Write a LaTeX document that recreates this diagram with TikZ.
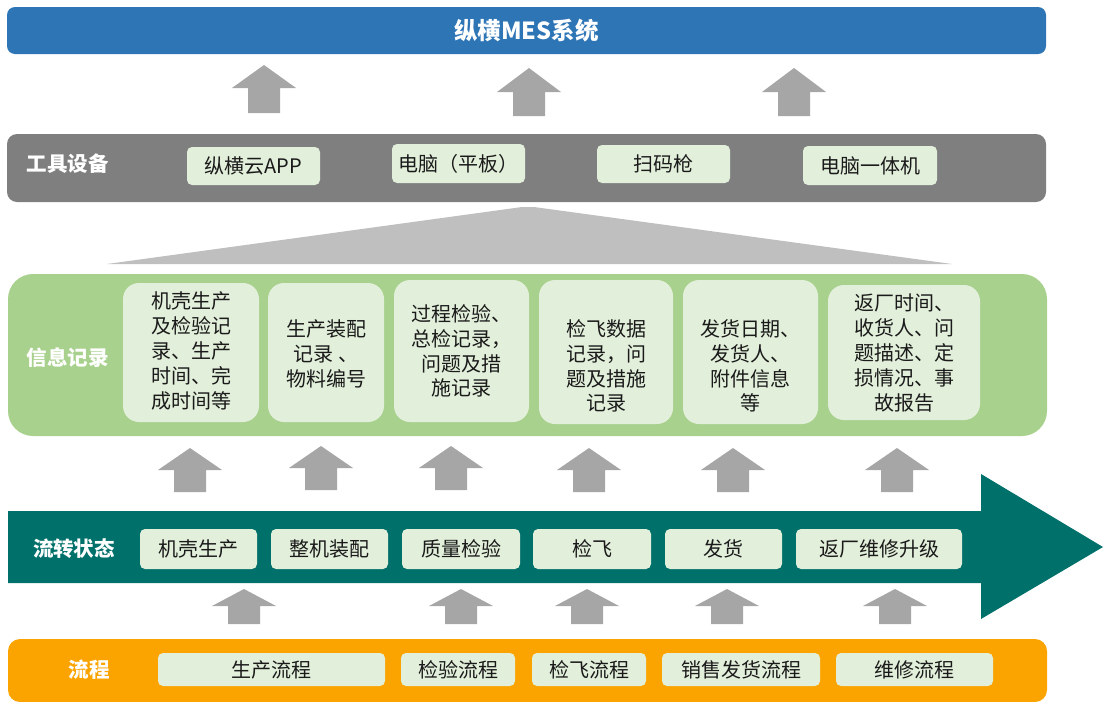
\documentclass[tikz,border=0pt]{standalone}
\usepackage{fontspec}
\setmainfont{Noto Sans CJK SC}
\definecolor{mesblue}{HTML}{2E75B6}
\definecolor{toolgray}{HTML}{7F7F7F}
\definecolor{boxg}{HTML}{E2EFDA}
\definecolor{trig}{HTML}{BFBFBF}
\definecolor{infog}{HTML}{A9D18E}
\definecolor{arrg}{HTML}{A6A6A6}
\definecolor{teal}{HTML}{00706A}
\definecolor{orng}{HTML}{FBA400}
\definecolor{txt}{HTML}{1A1A1A}
\newcommand\blkup[4]{%
  \fill[arrg] (#1-32,#3) -- (#1,#2) -- (#1+32,#3) -- (#1+16,#3) -- (#1+16,#4) -- (#1-16,#4) -- (#1-16,#3) -- cycle;}
\begin{document}
\begin{tikzpicture}[x=1pt,y=-1pt,
  every node/.style={font=\fontsize{20}{24.8}\selectfont, text=txt, inner sep=0pt},
  lbl/.style={font=\fontsize{20.5}{24}\selectfont\bfseries, text=white},
  bar/.style={rounded corners=#1},
  sbox/.style={fill=boxg, rounded corners=5pt},
  ibox/.style={fill=boxg, rounded corners=16pt},
  itxt/.style={align=center}]
\useasboundingbox (0,0) rectangle (1104,702);
% top MES bar
\node[bar=8pt, fill=mesblue, minimum width=1039pt, minimum height=47pt,
  font=\fontsize{23.5}{26}\selectfont\bfseries, text=white] (mes) at (526.5,30.5) {纵横MES系统};
\blkup{264}{65}{88}{113}
\blkup{529}{68}{92}{116}
\blkup{794}{68}{92}{116}
% tools bar
\node[bar=10pt, fill=toolgray, minimum width=1039pt, minimum height=68pt] (tools) at (526.5,168) {};
\node[lbl] (toolslbl) at (68,164) {工具设备};
\node[sbox, minimum width=133pt, minimum height=38pt] (t1) at (253.5,166) {纵横云APP};
\node[sbox, minimum width=133pt, minimum height=39pt] (t2) at (458.5,163.5) {电脑（平板）};
\node[sbox, minimum width=133pt, minimum height=38pt] (t3) at (663.5,164) {扫码枪};
\node[sbox, minimum width=134pt, minimum height=39pt] (t4) at (870,165.5) {电脑一体机};
% trapezoid
\fill[trig] (107,264) -- (522,207) -- (534,207) -- (952,264) -- cycle;
% info panel
\node[bar=25pt, fill=infog, minimum width=1039pt, minimum height=162pt] (info) at (527.5,355) {};
\node[lbl] (infolbl) at (68,358) {信息记录};
\node[ibox, minimum width=136pt, minimum height=139pt] (i1) at (191,352.5) {};
\node[itxt] at (191,351) {机壳生产\\及检验记\\录、生产\\时间、完\\成时间等};
\node[ibox, minimum width=116pt, minimum height=139pt] (i2) at (326,352.5) {};
\node[itxt] at (326,354) {生产装配\\记录\ 、\\物料编号};
\node[ibox, minimum width=135pt, minimum height=142pt] (i3) at (461.5,351) {};
\node[itxt] at (461.5,351) {过程检验、\\总检记录，\\问题及措\\施记录};
\node[ibox, minimum width=134pt, minimum height=144pt] (i4) at (606,352) {};
\node[itxt] at (606,366) {检飞数据\\记录，问\\题及措施\\记录};
\node[ibox, minimum width=135pt, minimum height=144pt] (i5) at (750.5,352) {};
\node[itxt] at (750.5,366) {发货日期、\\发货人、\\附件信息\\等};
\node[ibox, minimum width=152pt, minimum height=135pt] (i6) at (904,352.5) {};
\node[itxt] at (904,353) {返厂时间、\\收货人、问\\题描述、定\\损情况、事\\故报告};
% middle arrows
\blkup{190}{448}{470}{492}
\blkup{321}{446}{468}{490}
\blkup{451}{446}{468}{490}
\blkup{589}{448}{470}{492}
\blkup{733}{448}{470}{492}
\blkup{897}{448}{470}{492}
% teal flow arrow
\fill[teal] (8,511) -- (981,511) -- (981,474) -- (1103,547) -- (981,619) -- (981,583) -- (8,583) -- cycle;
\node[lbl] (flowlbl) at (74,549) {流转状态};
\node[sbox, minimum width=117pt, minimum height=40pt] (s1) at (198.5,549) {机壳生产};
\node[sbox, minimum width=117pt, minimum height=40pt] (s2) at (329.5,549) {整机装配};
\node[sbox, minimum width=118pt, minimum height=40pt] (s3) at (461,549) {质量检验};
\node[sbox, minimum width=118pt, minimum height=40pt] (s4) at (592,549) {检飞};
\node[sbox, minimum width=117pt, minimum height=40pt] (s5) at (723.5,549) {发货};
\node[sbox, minimum width=166pt, minimum height=40pt] (s6) at (879,549) {返厂维修升级};
% bottom arrows
\blkup{244}{589}{606}{624}
\blkup{461}{589}{606}{624}
\blkup{587}{589}{606}{624}
\blkup{727}{589}{606}{624}
\blkup{895}{589}{606}{624}
% process bar
\node[bar=12pt, fill=orng, minimum width=1039pt, minimum height=63pt] (proc) at (527.5,670.5) {};
\node[lbl] (proclbl) at (89,670) {流程};
\node[sbox, minimum width=227pt, minimum height=33pt] (p1) at (271.5,669.5) {生产流程};
\node[sbox, minimum width=114pt, minimum height=33pt] (p2) at (458,669.5) {检验流程};
\node[sbox, minimum width=114pt, minimum height=33pt] (p3) at (589,669.5) {检飞流程};
\node[sbox, minimum width=158pt, minimum height=33pt] (p4) at (741,669.5) {销售发货流程};
\node[sbox, minimum width=157pt, minimum height=33pt] (p5) at (914.5,669.5) {维修流程};
\end{tikzpicture}
\end{document}
